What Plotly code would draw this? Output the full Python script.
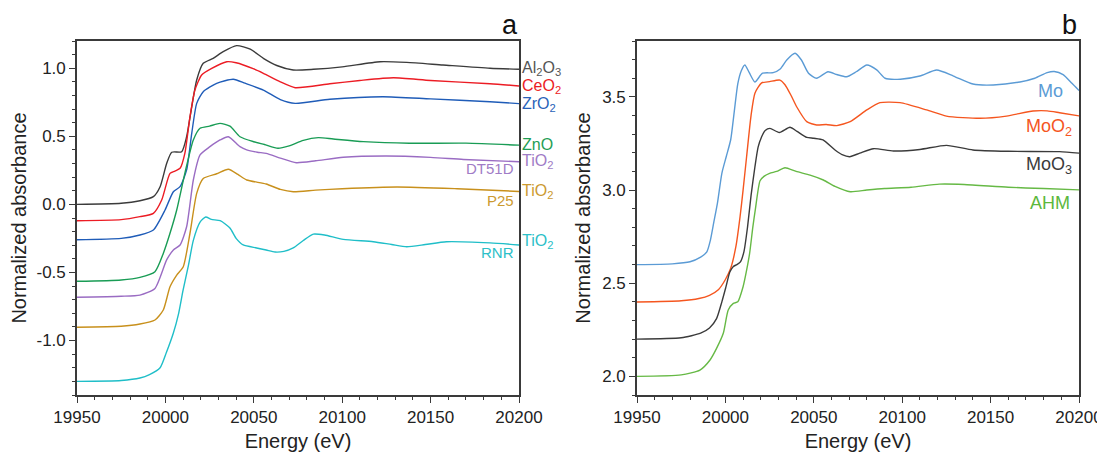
import plotly.graph_objects as go

# ---------------- Panel a data (Energy eV, normalized absorbance) ----------------
al2o3_e = [19950, 19975, 19985.6, 19993.2, 19997, 20000.7, 20003.6, 20009.2, 20012, 20014.9, 20017.7, 20021.4, 20027, 20032.7, 20040.3, 20048, 20055.4, 20063, 20072.3, 20083.7, 20100, 20121.4, 20136.5, 20157, 20183.6, 20200]
al2o3_y = [0.0, 0.008, 0.027, 0.057, 0.13, 0.30, 0.383, 0.387, 0.497, 0.717, 0.914, 1.036, 1.073, 1.122, 1.166, 1.14, 1.073, 1.02, 0.987, 0.992, 1.01, 1.048, 1.043, 1.024, 1.0, 0.993]

ceo2_e = [19950, 19975, 19985.6, 19993.2, 19997.9, 20002.6, 20005.4, 20008.3, 20011, 20013.9, 20016.7, 20020.5, 20026.2, 20034.7, 20040, 20050, 20055.4, 20065, 20073.4, 20093, 20110, 20129, 20150, 20183.6, 20200]
ceo2_y = [-0.12, -0.112, -0.09, -0.066, 0.032, 0.228, 0.245, 0.265, 0.375, 0.644, 0.84, 0.95, 0.999, 1.048, 1.04, 0.995, 0.963, 0.9, 0.857, 0.886, 0.91, 0.93, 0.91, 0.886, 0.87]

zro2_e = [19950, 19975, 19985.6, 19993.2, 19999.8, 20004.5, 20008.3, 20012, 20014.9, 20017.7, 20021.4, 20029, 20038.4, 20045, 20055.4, 20065, 20073.4, 20093, 20123, 20150, 20183.6, 20200]
zro2_y = [-0.26, -0.25, -0.225, -0.188, -0.041, 0.093, 0.13, 0.253, 0.522, 0.742, 0.828, 0.889, 0.919, 0.89, 0.84, 0.77, 0.742, 0.772, 0.791, 0.775, 0.754, 0.74]

zno_e = [19950, 19975, 19985.6, 19994.1, 19998.8, 20002.6, 20006.4, 20011, 20015.8, 20019.6, 20025, 20030.9, 20036.5, 20042.2, 20050, 20056, 20063.7, 20070, 20078, 20086.5, 20095, 20112, 20138, 20170, 20200]
zno_y = [-0.565, -0.555, -0.536, -0.494, -0.36, -0.212, -0.041, 0.228, 0.473, 0.559, 0.575, 0.595, 0.575, 0.497, 0.46, 0.44, 0.412, 0.43, 0.47, 0.49, 0.48, 0.461, 0.449, 0.45, 0.435]

dt51d_e = [19950, 19975, 19985.6, 19994.1, 20000.7, 20004.5, 20008.3, 20012, 20015.8, 20019.6, 20025.2, 20030.9, 20035.6, 20042.2, 20046, 20052, 20057, 20065, 20074, 20085, 20100.6, 20125, 20150, 20168.6, 20200]
dt51d_y = [-0.682, -0.675, -0.666, -0.617, -0.408, -0.335, -0.298, -0.164, 0.179, 0.363, 0.424, 0.473, 0.497, 0.424, 0.4, 0.383, 0.375, 0.34, 0.306, 0.32, 0.346, 0.355, 0.345, 0.33, 0.313]

p25_e = [19950, 19975, 19985.6, 19994.1, 19998.8, 20002.6, 20006.4, 20010.1, 20013.9, 20017.7, 20021.4, 20029, 20035.6, 20041, 20046, 20057, 20065, 20072.3, 20085, 20100, 20131, 20165, 20200]
p25_y = [-0.902, -0.895, -0.879, -0.849, -0.776, -0.605, -0.519, -0.458, -0.212, 0.081, 0.19, 0.225, 0.258, 0.22, 0.179, 0.15, 0.11, 0.093, 0.105, 0.115, 0.128, 0.115, 0.095]

rnr_e = [19950, 19975, 19985.6, 19991, 19997, 20000.5, 20004.5, 20007.5, 20010, 20013, 20015.8, 20019.6, 20022.8, 20026, 20031, 20036.5, 20040, 20044, 20051.6, 20057, 20062, 20067, 20072.3, 20078, 20083.7, 20090, 20100.6, 20117.6, 20128, 20136.5, 20147, 20159, 20183.6, 20200]
rnr_y = [-1.30, -1.293, -1.275, -1.25, -1.2, -1.09, -0.945, -0.8, -0.63, -0.45, -0.264, -0.13, -0.093, -0.11, -0.12, -0.174, -0.25, -0.298, -0.32, -0.335, -0.35, -0.345, -0.32, -0.265, -0.218, -0.225, -0.257, -0.274, -0.295, -0.311, -0.295, -0.274, -0.283, -0.298]

# ---------------- Panel b data ----------------
mo_e = [19950, 19970, 19980, 19986, 19989.5, 19991.5, 19993.5, 19995.5, 19998, 20000.5, 20003, 20005, 20007, 20009, 20011, 20013.5, 20016.7, 20021, 20027, 20031, 20034.7, 20039.4, 20043, 20047, 20051.6, 20058, 20063, 20068.5, 20074, 20080, 20085.6, 20090.3, 20099, 20110, 20119.5, 20129, 20140, 20151.5, 20166.6, 20175, 20182, 20186, 20191, 20196, 20200]
mo_y = [2.60, 2.604, 2.615, 2.64, 2.668, 2.73, 2.83, 2.93, 3.09, 3.18, 3.27, 3.42, 3.57, 3.64, 3.671, 3.63, 3.58, 3.627, 3.63, 3.65, 3.698, 3.734, 3.698, 3.627, 3.6, 3.635, 3.62, 3.608, 3.635, 3.671, 3.645, 3.6, 3.595, 3.612, 3.644, 3.612, 3.569, 3.564, 3.58, 3.6, 3.63, 3.636, 3.62, 3.573, 3.534]

moo2_e = [19950, 19975, 19985, 19991, 19996, 20000, 20003, 20006, 20008.3, 20010, 20012, 20014.5, 20016.7, 20020.5, 20025, 20030.8, 20033.7, 20037, 20040.3, 20046, 20051.6, 20057, 20063, 20070.6, 20080, 20087.4, 20098.8, 20113.8, 20125, 20144, 20159, 20174, 20182, 20189, 20200]
moo2_y = [2.399, 2.406, 2.418, 2.435, 2.465, 2.52, 2.58, 2.70, 2.857, 3.0, 3.18, 3.4, 3.52, 3.575, 3.582, 3.59, 3.565, 3.51, 3.447, 3.367, 3.349, 3.352, 3.346, 3.367, 3.43, 3.469, 3.469, 3.43, 3.397, 3.385, 3.397, 3.424, 3.425, 3.415, 3.398]

moo3_e = [19950, 19975, 19986, 19991, 19995, 19998, 20000.3, 20002.5, 20004.5, 20006.5, 20008.5, 20010.5, 20012.5, 20014.5, 20016.7, 20018.5, 20020.5, 20022.5, 20025.2, 20030.5, 20036.5, 20040.5, 20046, 20050, 20055.2, 20062, 20066, 20070.3, 20076, 20083.7, 20095, 20110, 20125, 20140, 20160, 20189, 20200]
moo3_y = [2.2, 2.207, 2.232, 2.26, 2.31, 2.4, 2.48, 2.56, 2.59, 2.6, 2.615, 2.67, 2.8, 2.97, 3.125, 3.23, 3.286, 3.32, 3.331, 3.309, 3.337, 3.315, 3.283, 3.278, 3.269, 3.215, 3.19, 3.179, 3.198, 3.222, 3.21, 3.218, 3.24, 3.215, 3.208, 3.206, 3.198]

ahm_e = [19950, 19975, 19985.6, 19991.3, 19995, 19998.8, 20001.6, 20004.5, 20007, 20010, 20012, 20013.7, 20015.5, 20017, 20019.6, 20022, 20025, 20029, 20033.7, 20040, 20047.9, 20055.4, 20062, 20070.6, 20080, 20090, 20105, 20121, 20135, 20160, 20180, 20200]
ahm_y = [2.0, 2.008, 2.034, 2.088, 2.15, 2.231, 2.356, 2.392, 2.40, 2.481, 2.57, 2.66, 2.8, 2.9, 3.05, 3.075, 3.09, 3.1, 3.12, 3.1, 3.08, 3.054, 3.02, 2.991, 3.0, 3.008, 3.015, 3.032, 3.03, 3.015, 3.008, 3.001]

# tick labels
x_ticks = [19950, 20000, 20050, 20100, 20150, 20200]
x_ticktext = ["19950", "20000", "20050", "20100", "20150", "20200"]
ya_ticks = [-1.0, -0.5, 0.0, 0.5, 1.0]
ya_ticktext = ["-1.0", "-0.5", "0.0", "0.5", "1.0"]
yb_ticks = [2.0, 2.5, 3.0, 3.5]
yb_ticktext = ["2.0", "2.5", "3.0", "3.5"]

# series tables
panel_a = [
    ("Al2O3", al2o3_e, al2o3_y, "#3b3b3b"),
    ("CeO2", ceo2_e, ceo2_y, "#ec1c24"),
    ("ZrO2", zro2_e, zro2_y, "#1f5cb8"),
    ("ZnO", zno_e, zno_y, "#199c55"),
    ("TiO2 DT51D", dt51d_e, dt51d_y, "#9a6cc3"),
    ("TiO2 P25", p25_e, p25_y, "#c8901c"),
    ("TiO2 RNR", rnr_e, rnr_y, "#1fbec8"),
]
panel_b = [
    ("Mo", mo_e, mo_y, "#5b9bd5"),
    ("MoO2", moo2_e, moo2_y, "#f5561f"),
    ("MoO3", moo3_e, moo3_y, "#3b3b3b"),
    ("AHM", ahm_e, ahm_y, "#66b945"),
]

W, H = 1105, 456
OFF = 8  # page body margin offset

def fx(px):
    return (px - OFF) / W

def fy(py):
    return 1 - (py - OFF) / H

FONT = "Liberation Sans, Arial, sans-serif"
fig = go.Figure()
for name, e, y, c in panel_a:
    fig.add_trace(go.Scatter(x=e, y=y, mode="lines", name=name, xaxis="x", yaxis="y",
                             line=dict(color=c, width=1.4, shape="spline", smoothing=0.6),
                             showlegend=False))
for name, e, y, c in panel_b:
    fig.add_trace(go.Scatter(x=e, y=y, mode="lines", name=name, xaxis="x2", yaxis="y2",
                             line=dict(color=c, width=1.4, shape="spline", smoothing=0.6),
                             showlegend=False))

axis_common = dict(showline=True, linecolor="#3a3a3a", linewidth=1.6, mirror=True,
                   ticks="outside", ticklen=6, tickwidth=1.4, tickcolor="#3a3a3a",
                   showgrid=False, zeroline=False, automargin=False,
                   tickfont=dict(family=FONT, size=17, color="#222"))
TITLE_FONT = dict(family=FONT, size=20, color="#222")
MINOR_X = dict(ticks="outside", ticklen=3.5, dtick=10, tick0=19950, tickcolor="#3a3a3a", tickwidth=1.2)
MINOR_Y = dict(ticks="outside", ticklen=3.5, dtick=0.1, tick0=0, tickcolor="#3a3a3a", tickwidth=1.2)

fig.update_layout(
    width=W, height=H, paper_bgcolor="white", plot_bgcolor="white",
    margin=dict(l=0, r=0, t=0, b=0, autoexpand=False),
    font=dict(family=FONT, color="#222"),
    xaxis=dict(domain=[fx(77), fx(519)], range=[19950, 20200], anchor="y",
               tickvals=x_ticks, ticktext=x_ticktext, minor=MINOR_X,
               title=dict(text="Energy (eV)", font=TITLE_FONT, standoff=8),
               **axis_common),
    yaxis=dict(domain=[fy(395), fy(41)], range=[-1.4, 1.2], anchor="x",
               tickvals=ya_ticks, ticktext=ya_ticktext, minor=MINOR_Y,
               title=dict(text="Normalized absorbance", font=TITLE_FONT, standoff=6),
               **axis_common),
    xaxis2=dict(domain=[fx(637), fx(1079)], range=[19950, 20200], anchor="y2",
                tickvals=x_ticks, ticktext=x_ticktext, minor=MINOR_X,
                title=dict(text="Energy (eV)", font=TITLE_FONT, standoff=8),
                **axis_common),
    yaxis2=dict(domain=[fy(395), fy(41)], range=[1.9, 3.8], anchor="x2",
                tickvals=yb_ticks, ticktext=yb_ticktext, minor=MINOR_Y,
                title=dict(text="Normalized absorbance", font=TITLE_FONT, standoff=6),
                **axis_common),
)

ann = []
# panel a labels (outside the right axis)
a_labels = [
    ("Al<sub>2</sub>O<sub>3</sub>", 0.999, "#555555"),
    ("CeO<sub>2</sub>", 0.864, "#ec1c24"),
    ("ZrO<sub>2</sub>", 0.73, "#2a62b8"),
    ("ZnO", 0.441, "#1f9e55"),
    ("TiO<sub>2</sub>", 0.313, "#a07cc6"),
    ("TiO<sub>2</sub>", 0.093, "#cc9a30"),
    ("TiO<sub>2</sub>", -0.274, "#2cc0c8"),
]
for txt, yv, col in a_labels:
    ann.append(dict(x=20200, y=yv, xref="x", yref="y", text=txt, showarrow=False,
                    xanchor="left", yanchor="middle", xshift=1,
                    font=dict(family=FONT, size=16, color=col)))
a_sub = [("DT51D", 0.265, "#a07cc6"), ("P25", 0.032, "#cc9a30"), ("RNR", -0.355, "#2cc0c8")]
for txt, yv, col in a_sub:
    ann.append(dict(x=20200, y=yv, xref="x", yref="y", text=txt, showarrow=False,
                    xanchor="right", yanchor="middle", xshift=-3,
                    font=dict(family=FONT, size=15, color=col)))
# panel b labels (inside)
b_labels = [
    ("Mo", 20192, 3.53, "#5b9bd5"),
    ("MoO<sub>2</sub>", 20197, 3.337, "#f5561f"),
    ("MoO<sub>3</sub>", 20197, 3.132, "#3b3b3b"),
    ("AHM", 20196, 2.93, "#5cb83c"),
]
for txt, xv, yv, col in b_labels:
    ann.append(dict(x=xv, y=yv, xref="x2", yref="y2", text=txt, showarrow=False,
                    xanchor="right", yanchor="middle",
                    font=dict(family=FONT, size=18, color=col)))
# panel letters
ann.append(dict(x=fx(510), y=fy(25), xref="paper", yref="paper", text="a", showarrow=False,
                xanchor="center", yanchor="middle", font=dict(family=FONT, size=27, color="#111")))
ann.append(dict(x=fx(1069), y=fy(25), xref="paper", yref="paper", text="b", showarrow=False,
                xanchor="center", yanchor="middle", font=dict(family=FONT, size=27, color="#111")))
fig.update_layout(annotations=ann)

fig.write_html("out.html")
